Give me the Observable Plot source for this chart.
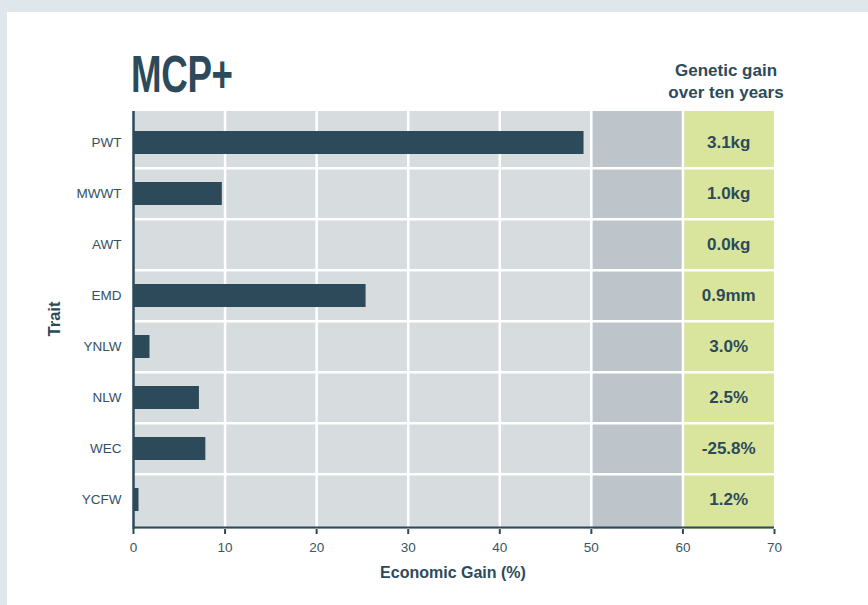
<!DOCTYPE html>
<html>
<head>
<meta charset="utf-8">
<script src="https://cdn.jsdelivr.net/npm/d3@7"></script>
<script src="https://cdn.jsdelivr.net/npm/@observablehq/plot@0.6"></script>
<style>
html, body { margin: 0; padding: 0; background: #dfe6ec; }
#page { position: relative; width: 868px; height: 605px; overflow: hidden; font-family: "Liberation Sans", Arial, sans-serif; color: #2c4a5a; }
#panel { position: absolute; left: 7px; top: 12px; right: 0; bottom: 0; background: #ffffff; }
#title { position: absolute; left: 131px; top: 49px; font-family: "Liberation Sans", Arial, sans-serif; font-weight: 700; font-size: 51px; line-height: 51px; letter-spacing: -0.5px; white-space: nowrap; transform: scaleX(0.72); transform-origin: left center; }
#gg { position: absolute; left: 626px; width: 200px; top: 60px; text-align: center; font-weight: 700; font-size: 17px; line-height: 22px; }
#trait { position: absolute; left: 54px; top: 319px; transform: translate(-50%, -50%) rotate(-90deg); font-weight: 700; font-size: 16.5px; white-space: nowrap; }
#xlabel { position: absolute; left: 453px; top: 573px; transform: translate(-50%, -50%); font-weight: 700; font-size: 16px; white-space: nowrap; }
#chart svg { position: absolute; left: 0; top: 0; }
</style>
</head>
<body>
<div id="page">
  <div id="panel"></div>
  <div id="chart"></div>
  <div id="title">MCP+</div>
  <div id="gg">Genetic gain<br>over ten years</div>
  <div id="trait">Trait</div>
  <div id="xlabel">Economic Gain (%)</div>
</div>
<script>
const traits = ["PWT", "MWWT", "AWT", "EMD", "YNLW", "NLW", "WEC", "YCFW"];
const economicGain = [49.2, 9.7, 0, 25.4, 1.8, 7.2, 7.9, 0.6];
const geneticGain = ["3.1kg", "1.0kg", "0.0kg", "0.9mm", "3.0%", "2.5%", "-25.8%", "1.2%"];
const xTicks = [0, 10, 20, 30, 40, 50, 60, 70];
const gridTicks = [10, 20, 30, 40, 50, 60];
const zoneStart = [0, 50, 60];
const zoneEnd = [50, 60, 70];
const zoneFill = ["#d7dcdf", "#bdc5ca", "#d9e59c"];

const dark = "#2c4a5a";
const W = 868, H = 605, mL = 133, mR = 94, mT = 111, mB = 76, insT = 3, insB = 1.6;
const bw = (H - mT - mB - insT - insB) / traits.length;

const rows = traits.map((t, i) => ({trait: t, gain: economicGain[i], label: geneticGain[i]}));
const zones = zoneStart.map((s, i) => ({x1: s, x2: zoneEnd[i], fill: zoneFill[i]}));
const labelX = (zoneStart[2] + zoneEnd[2]) / 2;

const chart = Plot.plot({
  width: W,
  height: H,
  marginLeft: mL,
  marginRight: mR,
  marginTop: mT,
  marginBottom: mB,
  style: {background: "transparent", color: dark, fontFamily: "'Liberation Sans', Arial, sans-serif"},
  x: {domain: [xTicks[0], xTicks[xTicks.length - 1]]},
  y: {domain: traits, paddingInner: 0, paddingOuter: 0, insetTop: insT, insetBottom: insB},
  color: {type: "identity"},
  marks: [
    Plot.rect(zones, {x1: "x1", x2: "x2", fill: "fill"}),
    Plot.ruleX(gridTicks, {stroke: "white", strokeWidth: 2.5}),
    Plot.ruleY(traits.slice(1), {stroke: "white", strokeWidth: 2.5, dy: -bw / 2}),
    Plot.barX(rows, {x: "gain", y: "trait", fill: dark, insetTop: 14, insetBottom: 14}),
    Plot.text(rows, {x: () => labelX, y: "trait", text: "label", fontSize: 17, fontWeight: "bold", fill: dark}),
    Plot.ruleX([xTicks[0]], {stroke: dark, strokeWidth: 2.5}),
    Plot.ruleY(traits.slice(-1), {stroke: dark, strokeWidth: 2, dy: bw / 2 + insB}),
    Plot.axisX(xTicks, {tickSize: 5, tickPadding: 8, fontSize: 13.5, stroke: dark, strokeWidth: 2, fill: "#3a5564", label: null}),
    Plot.axisY({tickSize: 0, tickPadding: 12, fontSize: 13.5, fill: "#34505f", label: null})
  ]
});
document.getElementById("chart").appendChild(chart);
</script>
</body>
</html>
